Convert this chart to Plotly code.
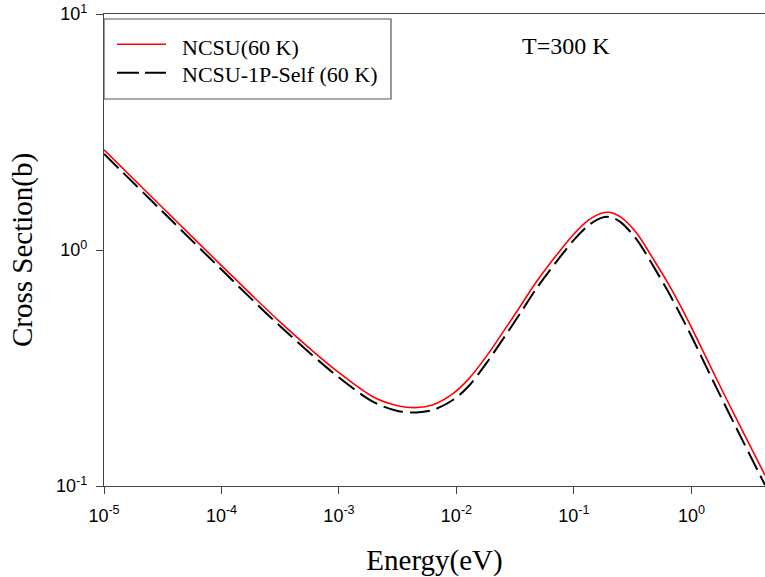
import plotly.graph_objects as go

# Energy grid (eV) and cross sections (barns)
energy = [1e-5, 3.16e-5, 1e-4, 3.16e-4, 1e-3, 2e-3, 3.16e-3, 4.57e-3, 6.31e-3,
          9.4e-3, 0.0126, 0.0181, 0.0251, 0.0347, 0.0481, 0.076, 0.1, 0.132,
          0.158, 0.182, 0.209, 0.251, 0.341, 0.473, 0.631, 0.798, 1.0, 1.637,
          2.512, 4.227]
ncsu = [2.655, 1.510, 0.859, 0.495, 0.302, 0.237, 0.219, 0.215, 0.221,
        0.247, 0.283, 0.356, 0.452, 0.575, 0.736, 0.993, 1.169, 1.334,
        1.409, 1.442, 1.439, 1.377, 1.180, 0.916, 0.724, 0.586, 0.470, 0.284,
        0.185, 0.111]
ncsu_1p = [2.553, 1.452, 0.826, 0.475, 0.288, 0.226, 0.208, 0.205, 0.210,
           0.232, 0.264, 0.333, 0.422, 0.537, 0.689, 0.933, 1.104, 1.268,
           1.346, 1.380, 1.374, 1.309, 1.109, 0.855, 0.668, 0.537, 0.431, 0.260,
           0.169, 0.101]

series_names = ["NCSU(60 K)", "NCSU-1P-Self (60 K)"]
x_tickvals = [1e-5, 1e-4, 1e-3, 1e-2, 1e-1, 1e0]
x_ticktext = ["10<sup>-5</sup>", "10<sup>-4</sup>", "10<sup>-3</sup>",
              "10<sup>-2</sup>", "10<sup>-1</sup>", "10<sup>0</sup>"]
y_tickvals = [0.1, 1, 10]
y_ticktext = ["10<sup>-1</sup>", "10<sup>0</sup>", "10<sup>1</sup>"]

serif = "Times New Roman, Liberation Serif, serif"
sans = "Arial, Liberation Sans, sans-serif"

fig = go.Figure()
fig.add_trace(go.Scatter(x=energy, y=ncsu, mode="lines", name=series_names[0],
                         line=dict(color="#ff0000", width=1.6, shape="spline",
                                   smoothing=0.9),
                         showlegend=False))
fig.add_trace(go.Scatter(x=energy, y=ncsu_1p, mode="lines", name=series_names[1],
                         line=dict(color="#000000", width=2, dash="20px,7px",
                                   shape="spline", smoothing=0.9),
                         showlegend=False))

axis_common = dict(showline=True, linecolor="#444", linewidth=1.3,
                   ticks="outside", ticklen=7, tickcolor="#444", tickwidth=1.3,
                   showgrid=False, zeroline=False,
                   tickfont=dict(family=sans, size=18, color="#000"))

fig.update_xaxes(type="log", range=[-5, 0.626], tickvals=x_tickvals,
                 ticktext=x_ticktext, mirror=True, ticklabelstandoff=6,
                 title=dict(text="Energy(eV)", font=dict(family=serif, size=29, color="#000"),
                            standoff=24),
                 **axis_common)
fig.update_yaxes(type="log", range=[-1, 1], tickvals=y_tickvals,
                 ticktext=y_ticktext, ticklabelstandoff=5,
                 title=dict(text="Cross Section(b)", font=dict(family=serif, size=29, color="#000"),
                            standoff=14),
                 **axis_common)

# Legend drawn as a boxed key
lx0, lx1, ly0, ly1 = 0.0, 0.4342, 0.8199, 0.9894
fig.add_shape(type="rect", xref="paper", yref="paper", x0=lx0, x1=lx1, y0=ly0, y1=ly1,
              line=dict(color="#555", width=1.2), fillcolor="white", layer="above")
fig.add_shape(type="line", xref="paper", yref="paper", x0=0.0197, x1=0.0938,
              y0=0.9358, y1=0.9358, line=dict(color="#ff0000", width=1.6), layer="above")
fig.add_shape(type="line", xref="paper", yref="paper", x0=0.0197, x1=0.0938,
              y0=0.8756, y1=0.8756, line=dict(color="#000", width=2, dash="22px,6px"),
              layer="above")
fig.add_annotation(xref="paper", yref="paper", x=0.115, y=0.930, xanchor="left",
                   yanchor="middle", text=series_names[0], showarrow=False,
                   font=dict(family=serif, size=22, color="#000"))
fig.add_annotation(xref="paper", yref="paper", x=0.115, y=0.8718, xanchor="left",
                   yanchor="middle", text=series_names[1], showarrow=False,
                   font=dict(family=serif, size=22, color="#000"))
fig.add_annotation(xref="paper", yref="paper", x=0.699, y=0.932, xanchor="center",
                   yanchor="middle", text="T=300 K", showarrow=False,
                   font=dict(family=serif, size=24, color="#000"))

fig.update_layout(width=765, height=577,
                  margin=dict(l=104, r=0, t=14, b=91, pad=0),
                  paper_bgcolor="white", plot_bgcolor="white",
                  showlegend=False)

fig.write_html("out.html")
